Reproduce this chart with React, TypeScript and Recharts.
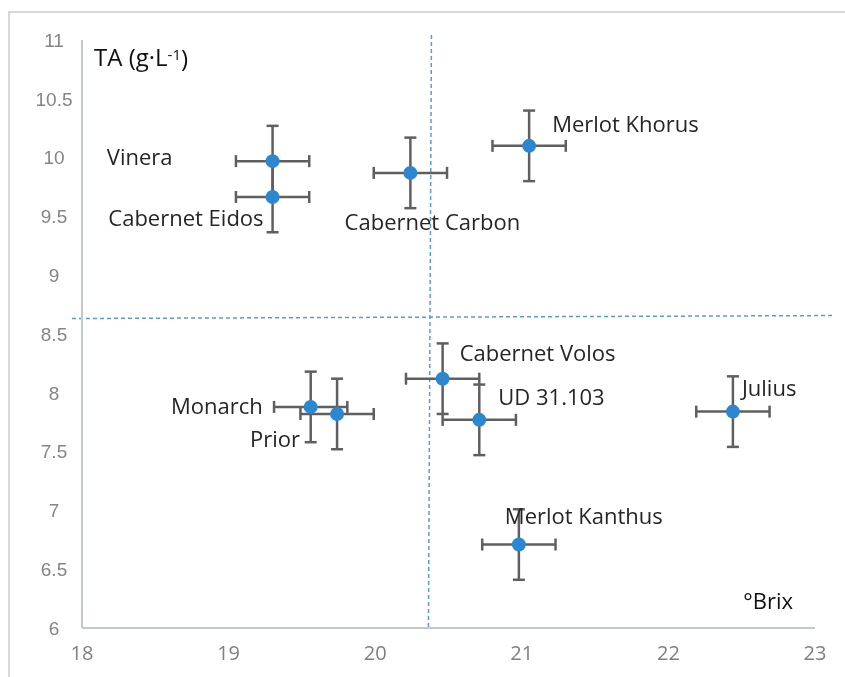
import React from "react";
import {
  ScatterChart,
  Scatter,
  XAxis,
  YAxis,
  ZAxis,
  ErrorBar,
  ReferenceLine,
  LabelList,
} from "recharts";

// cultivar data: °Brix vs titratable acidity, with error bars
const cultivars = [
  "Vinera",
  "Cabernet Eidos",
  "Cabernet Carbon",
  "Merlot Khorus",
  "Monarch",
  "Prior",
  "Cabernet Volos",
  "UD 31.103",
  "Julius",
  "Merlot Kanthus",
];
const brix = [19.3, 19.3, 20.24, 21.05, 19.56, 19.74, 20.46, 20.71, 22.44, 20.98];
const acidity = [9.97, 9.665, 9.87, 10.1, 7.88, 7.82, 8.12, 7.77, 7.84, 6.71];
const brixErr = [0.25, 0.25, 0.25, 0.25, 0.25, 0.25, 0.25, 0.25, 0.25, 0.25];
const acidityErr = [0.3, 0.3, 0.3, 0.3, 0.3, 0.3, 0.3, 0.3, 0.3, 0.3];

const xTicks = [18, 19, 20, 21, 22, 23];
const yTicks = [6, 6.5, 7, 7.5, 8, 8.5, 9, 9.5, 10, 10.5, 11];

// quadrant dividers
const brixSplit = 20.37;
const aciditySplit = 8.64;

const data = cultivars.map((name, i) => ({
  name,
  brix: brix[i],
  ta: acidity[i],
  brixErr: brixErr[i],
  taErr: acidityErr[i],
}));

// where each label sits relative to its point
const labelPlacement: Record<string, { dx: number; dy: number; anchor: string }> = {
  Vinera: { dx: -100, dy: -4, anchor: "end" },
  "Cabernet Eidos": { dx: -9, dy: 21, anchor: "end" },
  "Cabernet Carbon": { dx: 22, dy: 49, anchor: "middle" },
  "Merlot Khorus": { dx: 23, dy: -22, anchor: "start" },
  Monarch: { dx: -48, dy: -1, anchor: "end" },
  Prior: { dx: -37, dy: 25, anchor: "end" },
  "Cabernet Volos": { dx: 17, dy: -25, anchor: "start" },
  "UD 31.103": { dx: 19, dy: -23, anchor: "start" },
  Julius: { dx: 9, dy: -23, anchor: "start" },
  "Merlot Kanthus": { dx: -14, dy: -28, anchor: "start" },
};

const LABEL_FONT = "'Open Sans', sans-serif";

const PointLabel = (props: any) => {
  const { x, y, width, height, value } = props;
  const p = labelPlacement[value] || { dx: 10, dy: 0, anchor: "start" };
  const cx = x + width / 2;
  const cy = y + height / 2;
  return (
    <text
      x={cx + p.dx}
      y={cy + p.dy}
      dy="0.35em"
      textAnchor={p.anchor}
      fontFamily={LABEL_FONT}
      fontSize={22}
      fill="#262626"
    >
      {value}
    </text>
  );
};

const Dot = ({ cx, cy }: any) => <circle cx={cx} cy={cy} r={7} fill="#2b88d0" />;

const YTitle = ({ viewBox }: any) => (
  <text
    x={viewBox.x + viewBox.width + 12}
    y={viewBox.y + 18}
    dy="0.35em"
    fontFamily={LABEL_FONT}
    fontSize={24}
    fill="#111"
  >
    TA (g·L
    <tspan dy="-0.45em" fontSize={15}>
      -1
    </tspan>
    <tspan dy="0.3em">)</tspan>
  </text>
);

const XTitle = ({ viewBox }: any) => (
  <text
    x={viewBox.x + viewBox.width - 22}
    y={viewBox.y - 27}
    dy="0.35em"
    textAnchor="end"
    fontFamily={LABEL_FONT}
    fontSize={22}
    fill="#111"
  >
    °Brix
  </text>
);

const VDivider = ({ x1, y1, x2, y2 }: any) => (
  <line
    x1={x1 + 2}
    y1={Math.min(y1, y2) - 5}
    x2={x2 - 1}
    y2={Math.max(y1, y2)}
    stroke="#5b9bd5"
    strokeWidth={1.5}
    strokeDasharray="4 3"
  />
);

const HDivider = ({ x1, y1, x2, y2 }: any) => (
  <line
    x1={Math.min(x1, x2) - 10}
    y1={y1 + 1}
    x2={Math.max(x1, x2) + 20}
    y2={y2 - 2}
    stroke="#5b9bd5"
    strokeWidth={1.5}
    strokeDasharray="4 3"
  />
);

export default function App() {
  return (
    <div style={{ position: "relative", width: 829, height: 661 }}>
      <div
        style={{
          position: "fixed",
          left: 8,
          top: 11,
          right: -20,
          bottom: -20,
          borderTop: "2px solid #d6d9dc",
          borderLeft: "2px solid #d6d9dc",
        }}
      />
      <ScatterChart
        width={829}
        height={661}
        margin={{ top: 32, right: 22, bottom: 11, left: 14 }}
        style={{ position: "relative" }}
      >
        <XAxis
          type="number"
          dataKey="brix"
          domain={[18, 23]}
          ticks={xTicks}
          interval={0}
          tickLine={false}
          tickSize={0}
          tickMargin={18}
          height={30}
          axisLine={{ stroke: "#c3c8cd", strokeWidth: 2 }}
          tick={{ fill: "#7f7f7f", fontSize: 20, fontFamily: LABEL_FONT }}
          label={<XTitle />}
        />
        <YAxis
          type="number"
          dataKey="ta"
          domain={[6, 11]}
          ticks={yTicks}
          interval={0}
          tickLine={false}
          tickSize={0}
          tickMargin={28}
          width={60}
          axisLine={{ stroke: "#c3c8cd", strokeWidth: 2 }}
          tick={{
            fill: "#858585",
            fontSize: 19,
            fontFamily: "'Liberation Sans', Arial, sans-serif",
            textAnchor: "middle",
          }}
          label={<YTitle />}
        />
        <ZAxis range={[154, 154]} />
        <ReferenceLine x={brixSplit} shape={<VDivider />} />
        <ReferenceLine y={aciditySplit} shape={<HDivider />} />
        <Scatter data={data} shape={<Dot />} isAnimationActive={false}>
          <ErrorBar dataKey="brixErr" direction="x" stroke="#5f5f5f" strokeWidth={2.5} width={6} />
          <ErrorBar dataKey="taErr" direction="y" stroke="#5f5f5f" strokeWidth={2.5} width={6} />
          <LabelList dataKey="name" content={<PointLabel />} />
        </Scatter>
      </ScatterChart>
    </div>
  );
}
